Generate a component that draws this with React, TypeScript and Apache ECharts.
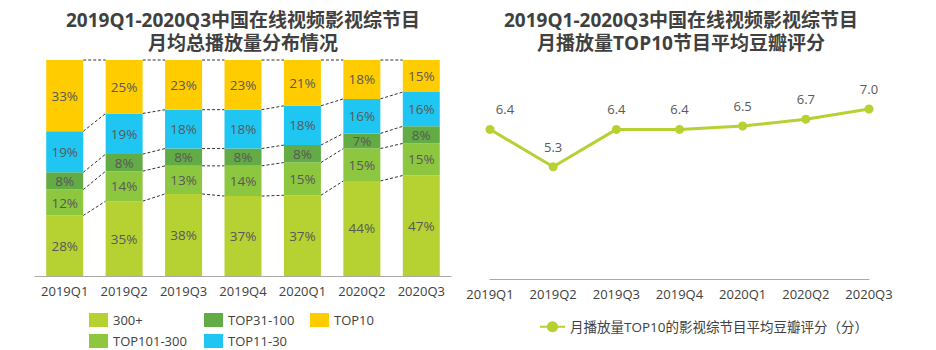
import React, { useEffect, useRef } from "react";
import * as echarts from "echarts";

const categories = ["2019Q1", "2019Q2", "2019Q3", "2019Q4", "2020Q1", "2020Q2", "2020Q3"];
const seriesNames = ["300+", "TOP101-300", "TOP31-100", "TOP11-30", "TOP10"];
const s300 = [28, 35, 38, 37, 37, 44, 47];
const sTop101 = [12, 14, 13, 14, 15, 15, 15];
const sTop31 = [8, 8, 8, 8, 8, 7, 8];
const sTop11 = [19, 19, 18, 18, 18, 16, 16];
const sTop10 = [33, 25, 23, 23, 21, 18, 15];
const doubanScores = [6.4, 5.3, 6.4, 6.4, 6.5, 6.7, 7.0];
const lineName = "月播放量TOP10的影视综节目平均豆瓣评分（分）";
const leftTitleLines = ["2019Q1-2020Q3中国在线视频影视综节目", "月均总播放量分布情况"];
const rightTitleLines = ["2019Q1-2020Q3中国在线视频影视综节目", "月播放量TOP10节目平均豆瓣评分"];

const colors = ["#B5D132", "#8DC63F", "#63AB45", "#1FC6F1", "#FFCC00"];
const FONT = "'Open Sans', 'Noto Sans CJK SC', sans-serif";
const BAR_W = 37;

// legend slot positions (left, top) for each stacked series
const legendSlots: [number, number][] = [
  [84, 308],
  [84, 329],
  [199, 308],
  [199, 329],
  [305, 308],
];

export default function App() {
  const ref = useRef<HTMLDivElement>(null);
  useEffect(() => {
    document.body.style.margin = "0";
    const chart = echarts.init(ref.current!, null, { renderer: "svg" });
    const raw = [s300, sTop101, sTop31, sTop11, sTop10];
    const totals = categories.map((_, i) => raw.reduce((a, s) => a + s[i], 0));
    const norm = raw.map((s) => s.map((v, i) => (v / totals[i]) * 100));
    const cum = categories.map((_, i) => {
      let acc = 0;
      return norm.map((s) => (acc += s[i]));
    });

    const barSeries = raw.map((s, k) => ({
      name: seriesNames[k],
      type: "bar",
      stack: "total",
      xAxisIndex: 0,
      yAxisIndex: 0,
      barWidth: BAR_W,
      data: norm[k],
      itemStyle: { color: colors[k] },
      label: {
        show: true,
        position: "inside",
        color: "#595959",
        fontSize: 13.5,
        fontFamily: FONT,
        formatter: (p: any) => `${s[p.dataIndex]}%`,
      },
    }));

    const connector = {
      type: "custom",
      xAxisIndex: 0,
      yAxisIndex: 0,
      silent: true,
      data: categories.slice(0, -1).map((_, i) => [i, 100]),
      renderItem: (params: any, api: any) => {
        const i = params.dataIndex;
        const children = cum[i].map((v, k) => {
          const p1 = api.coord([i, v]);
          const p2 = api.coord([i + 1, cum[i + 1][k]]);
          return {
            type: "line",
            shape: { x1: p1[0] + BAR_W / 2, y1: p1[1], x2: p2[0] - BAR_W / 2, y2: p2[1] },
            style: { stroke: "#333", lineWidth: 1, lineDash: [3, 2] },
          };
        });
        return { type: "group", children };
      },
    };

    const barLegends = seriesNames.map((n, k) => ({
      left: legendSlots[k][0],
      top: legendSlots[k][1],
      itemWidth: 19,
      itemHeight: 14,
      icon: "rect",
      data: [n],
      textStyle: { fontSize: 13, color: "#404040", fontFamily: FONT },
    }));

    const titleStyle = {
      fontSize: 19,
      fontWeight: "bold",
      color: "#404040",
      lineHeight: 20,
      fontFamily: FONT,
    };
    const mkTitles = (lines: string[], cx: number) =>
      lines.map((t, j) => ({
        text: t,
        left: cx,
        top: 10 + j * 23,
        padding: 0,
        textAlign: "center",
        textStyle: titleStyle,
      }));

    chart.setOption({
      animation: false,
      textStyle: { fontFamily: FONT },
      title: [...mkTitles(leftTitleLines, 243), ...mkTitles(rightTitleLines, 681)],
      legend: [
        ...barLegends,
        {
          left: 534,
          top: 315,
          itemWidth: 25,
          itemHeight: 14,
          data: [lineName],
          textStyle: { fontSize: 13.5, color: "#404040", fontFamily: FONT },
        },
      ],
      grid: [
        { left: 35, right: 485, top: 60, bottom: 74 },
        { left: 490, right: 67, top: 75, bottom: 71 },
      ],
      xAxis: [
        {
          type: "category",
          gridIndex: 0,
          data: categories,
          axisTick: { show: false },
          axisLine: { lineStyle: { color: "#AAAAAA", width: 1 } },
          axisLabel: { color: "#404040", fontSize: 13, margin: 8, interval: 0, fontFamily: FONT },
        },
        {
          type: "category",
          gridIndex: 1,
          data: categories,
          boundaryGap: false,
          axisTick: { show: false },
          axisLine: { lineStyle: { color: "#AAAAAA", width: 1 } },
          axisLabel: { color: "#404040", fontSize: 13, margin: 8, interval: 0, fontFamily: FONT },
        },
      ],
      yAxis: [
        { type: "value", gridIndex: 0, min: 0, max: 100, show: false },
        { type: "value", gridIndex: 1, min: 2, max: 8, show: false },
      ],
      series: [
        ...barSeries,
        connector,
        {
          name: lineName,
          type: "line",
          xAxisIndex: 1,
          yAxisIndex: 1,
          data: doubanScores.map((v, i) =>
            i === 0 ? { value: v, label: { offset: [15, 0] } } : v
          ),
          symbol: "circle",
          symbolSize: 9,
          lineStyle: { color: colors[0], width: 3 },
          itemStyle: { color: colors[0] },
          label: {
            show: true,
            position: "top",
            distance: 9,
            color: "#595959",
            fontSize: 13,
            fontFamily: FONT,
            formatter: (p: any) => Number(p.value).toFixed(1),
          },
        },
      ],
    });
    return () => chart.dispose();
  }, []);
  return <div ref={ref} style={{ width: 936, height: 350 }} />;
}
